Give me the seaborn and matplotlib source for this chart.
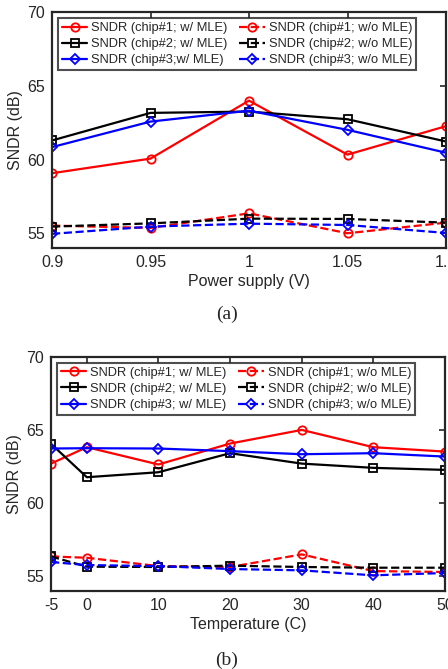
import numpy as np
import pandas as pd
import matplotlib
matplotlib.use("Agg")
import matplotlib.pyplot as plt
import seaborn as sns

sns.set_style("white")
plt.rcParams['font.family'] = ['Liberation Sans', 'DejaVu Sans']

# ---- data (a): power supply sweep ----
supply_v = [0.9, 0.95, 1.0, 1.05, 1.1]
a_chip1_w = [59.07, 60.06, 63.99, 60.33, 62.26]
a_chip2_w = [61.29, 63.16, 63.25, 62.73, 61.22]
a_chip3_w = [60.84, 62.57, 63.31, 62.01, 60.46]
a_chip1_wo = [55.52, 55.36, 56.35, 55.0, 55.72]
a_chip2_wo = [55.45, 55.67, 55.99, 55.97, 55.72]
a_chip3_wo = [54.96, 55.45, 55.65, 55.56, 55.02]

# ---- data (b): temperature sweep ----
temp_c = [-5, 0, 10, 20, 30, 40, 50]
b_chip1_w = [62.70, 63.82, 62.64, 64.07, 65.0, 63.82, 63.52]
b_chip2_w = [64.05, 61.77, 62.11, 63.41, 62.70, 62.41, 62.27]
b_chip3_w = [63.73, 63.75, 63.73, 63.55, 63.34, 63.41, 63.18]
b_chip1_wo = [56.36, 56.27, 55.70, 55.64, 56.50, 55.36, 55.30]
b_chip2_wo = [56.36, 55.66, 55.64, 55.73, 55.64, 55.59, 55.59]
b_chip3_wo = [55.98, 55.77, 55.70, 55.50, 55.41, 55.07, 55.23]

# order: w/ MLE chip1..3, then w/o MLE chip1..3 (legend fills column-wise)
labels_a = ["SNDR (chip#1; w/ MLE)", "SNDR (chip#2; w/ MLE)", "SNDR (chip#3;w/ MLE)",
            "SNDR (chip#1; w/o MLE)", "SNDR (chip#2; w/o MLE)", "SNDR (chip#3; w/o MLE)"]
labels_b = ["SNDR (chip#1; w/ MLE)", "SNDR (chip#2; w/ MLE)", "SNDR (chip#3; w/ MLE)",
            "SNDR (chip#1; w/o MLE)", "SNDR (chip#2; w/o MLE)", "SNDR (chip#3; w/o MLE)"]

colors = ["#ff0000", "#000000", "#0000ff", "#ff0000", "#000000", "#0000ff"]
markers = ["o", "s", "D", "o", "s", "D"]
styles = ["-", "-", "-", "--", "--", "--"]

fig = plt.figure(figsize=(4.48, 6.69), dpi=100)
ax1 = fig.add_axes([52/448, (669-248)/669, 394/448, 236/669])
ax2 = fig.add_axes([51/448, (669-591)/669, 394/448, 234.3/669])

def draw(ax, x, series, labels, xticks, xticklabels, xlim, xlabel):
    for ys, lab, c, m, ls in zip(series, labels, colors, markers, styles):
        sns.lineplot(x=x, y=ys, ax=ax, color=c, marker=m, linestyle=ls,
                     linewidth=1.6, markersize=6 if m != "D" else 5,
                     markerfacecolor="none", markeredgecolor=c,
                     markeredgewidth=1.3, label=lab, dashes=False,
                     estimator=None, sort=False)
    ax.set_xlim(*xlim)
    ax.set_ylim(54, 70)
    ax.set_yticks([55, 60, 65, 70])
    ax.set_xticks(xticks)
    ax.set_xticklabels(xticklabels)
    ax.tick_params(direction="in", length=4, width=1.2, top=True, right=True,
                   labelsize=11.5, colors="#262626", pad=5)
    for s in ax.spines.values():
        s.set_visible(True)
        s.set_linewidth(1.6)
        s.set_color("#262626")
    ax.set_xlabel(xlabel, fontsize=11.5, color="#262626", labelpad=3)
    ax.set_ylabel("SNDR (dB)", fontsize=11.5, color="#262626", labelpad=3)
    leg = ax.legend(ncol=2, loc="upper left", bbox_to_anchor=(0.008, 0.985),
                    fontsize=9.3, frameon=True, fancybox=False,
                    handlelength=2.0, handletextpad=0.3, columnspacing=0.9,
                    borderpad=0.3, labelspacing=0.32, borderaxespad=0.2)
    leg.get_frame().set_edgecolor("#222222")
    leg.get_frame().set_linewidth(1.5)

draw(ax1, supply_v,
     [a_chip1_w, a_chip2_w, a_chip3_w, a_chip1_wo, a_chip2_wo, a_chip3_wo],
     labels_a, supply_v, ["0.9", "0.95", "1", "1.05", "1.1"], (0.9, 1.1),
     "Power supply (V)")
draw(ax2, temp_c,
     [b_chip1_w, b_chip2_w, b_chip3_w, b_chip1_wo, b_chip2_wo, b_chip3_wo],
     labels_b, temp_c, ["-5", "0", "10", "20", "30", "40", "50"], (-5, 50),
     "Temperature (C)")

fig.text(227/448, 1 - 314/669, "(a)", ha="center", va="center",
         fontsize=14, family=["Liberation Serif", "DejaVu Serif"])
fig.text(227/448, 1 - 660/669, "(b)", ha="center", va="center",
         fontsize=14, family=["Liberation Serif", "DejaVu Serif"])

fig.savefig("out.png", dpi=100, facecolor="white")
